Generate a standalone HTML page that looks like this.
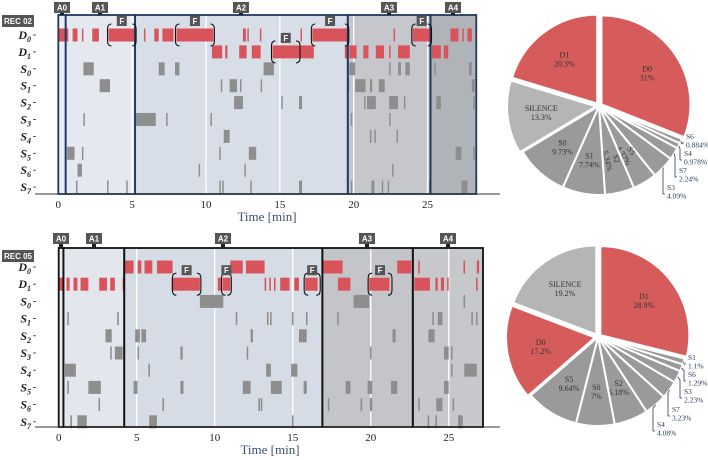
<!DOCTYPE html>
<html><head><meta charset="utf-8"><style>
body{margin:0;background:#fff}
svg{display:block;font-family:"Liberation Serif",serif}
.tag{font-family:"Liberation Sans",sans-serif;font-weight:bold;fill:#fff;font-size:8px}
</style></head><body>
<svg id="fig" width="708" height="460" viewBox="0 0 708 460"></svg>
<script>
const rowNames=["D0","D1","S0","S1","S2","S3","S4","S5","S6","S7"];
const xTicks=[0,5,10,15,20,25];
// REC 02
const rec02Phases=[0,0.5,5.2,19.6,25.2,28.3];
const rec02D0=[[0,0.68],[0.97,1.3],[1.6,1.7],[2.3,2.75],[3.4,5.2],[5.8,5.9],[6.5,6.8],[7.05,7.8],[8.0,10.5],[12.5,12.7],[12.8,12.9],[13.65,13.75],[16.4,16.5],[17.2,19.65],[22.7,22.8],[24.0,25.25],[26.55,27.1],[27.35,27.45],[27.7,28.0]];
const rec02D1=[[10.4,11.1],[11.3,11.45],[12.25,12.75],[13.1,13.7],[14.5,17.3],[19.4,19.6],[19.7,20.2],[20.65,21.0],[21.5,22.05],[22.4,22.5],[23.0,23.8],[25.3,25.9],[26.1,26.4]];
const rec02S0=[[1.7,2.4],[6.8,7.2],[7.9,8.2],[13.9,14.6],[19.7,20.1],[22.4,22.5],[23.0,23.2],[23.5,23.8],[25.45,25.55],[27.8,28.0]];
const rec02S1=[[2.8,3.5],[11.0,11.1],[11.6,12.1],[12.3,12.4],[13.7,13.8],[19.6,19.7],[20.1,20.8],[21.1,21.25],[21.7,22.1],[28.0,28.2]];
const rec02S2=[[11.9,12.5],[15.1,15.2],[16.3,16.5],[20.7,20.8],[20.9,21.5],[22.4,23.0],[23.4,23.5],[25.6,25.9],[28.1,28.2]];
const rec02S3=[[1.7,1.8],[5.2,6.6],[7.3,7.4],[10.3,10.4],[19.8,19.9],[22.4,22.5]];
const rec02S4=[[11.2,11.6],[21.1,21.2],[21.4,21.5],[22.9,23.0]];
const rec02S5=[[0.6,1.1],[1.6,1.7],[10.9,11.0],[12.9,13.4],[26.9,27.3],[28.1,28.2]];
const rec02S6=[[1.3,1.6],[9.5,9.6],[12.6,12.7],[22.6,22.7]];
const rec02S7=[[1.2,1.3],[3.3,3.4],[4.6,4.7],[10.9,11.0],[11.1,11.2],[13.0,13.1],[16.3,16.5],[19.8,19.9],[21.2,21.4],[21.9,22.0],[22.3,22.4],[25.1,25.2],[27.3,27.7]];
const rec02Focus=[[0,3.4,5.2],[0,8.0,10.5],[0,17.2,19.6],[0,24.0,25.2],[1,14.5,16.3]];
// REC 05
const rec05Phases=[0,0.3,4.2,16.9,22.7,27.2];
const rec05D0=[[4.25,4.8],[5.06,5.3],[5.5,6.0],[6.3,7.3],[11.0,11.8],[12.0,13.2],[16.95,18.2],[21.7,22.6],[23.05,23.15],[25.95,26.05],[26.8,26.95]];
const rec05D1=[[0,0.3],[0.5,0.7],[0.95,1.2],[1.4,1.9],[2.6,3.1],[3.3,3.6],[4.1,4.2],[7.25,9.05],[10.2,10.4],[10.5,11.0],[13.2,13.3],[13.5,13.6],[13.8,13.9],[14.2,14.8],[15.1,15.4],[15.8,16.6],[17.9,18.7],[19.9,21.2],[22.8,23.8],[24.15,24.3],[24.5,24.7],[24.9,25.0],[26.75,26.85]];
const rec05S0=[[9.05,10.55],[18.9,19.9],[25.95,26.05]];
const rec05S1=[[0.55,0.65],[3.75,3.85],[11.35,11.45],[13.35,13.45],[13.55,13.65],[14.95,15.05],[15.85,15.95],[17.85,17.95],[23.95,24.05],[24.3,24.6],[26.45,26.55],[26.75,26.85]];
const rec05S2=[[3.0,3.4],[4.9,5.2],[5.3,5.6],[12.3,12.45],[15.4,15.9],[21.4,21.6],[23.7,24.1]];
const rec05S3=[[3.3,3.4],[3.6,4.1],[5.05,5.15],[7.8,7.95],[12.05,12.15],[19.95,20.05],[22.65,22.75],[24.7,25.0],[25.15,25.25]];
const rec05S4=[[0.4,1.1],[5.75,5.85],[13.3,13.6],[14.9,15.3],[25.15,25.25],[26.0,26.8]];
const rec05S5=[[0.55,0.65],[1.9,2.7],[4.8,5.05],[7.8,8.0],[11.8,12.3],[13.6,14.3],[15.7,15.9],[18.4,18.7],[19.8,20.1],[21.3,21.7],[24.7,25.0]];
const rec05S6=[[2.55,2.65],[6.65,6.75],[12.8,12.9],[12.95,13.05],[17.25,17.35],[19.35,19.45],[19.95,20.1],[23.05,23.15],[24.2,24.6],[25.25,25.35]];
const rec05S7=[[0.75,0.85],[1.2,1.8],[5.8,6.3],[14.95,15.05],[23.65,23.75],[24.15,24.25],[25.6,25.9]];
const rec05Focus=[[1,7.35,9.05],[1,10.5,11.0],[1,15.8,16.7],[1,19.9,21.3]];
// Pies (clockwise from top)
const pie1Labels=["D0","S6","S4","S7","S3","S5","S2","S1","S0","SILENCE","D1"];
const pie1Values=[31,0.884,0.978,2.24,4.09,4.37,5.34,7.74,9.73,13.3,20.3];
const pie2Labels=["D1","S1","S6","S3","S7","S4","S2","S0","S5","D0","SILENCE"];
const pie2Values=[28.9,1.1,1.29,2.23,3.23,4.08,6.18,7,9.64,17.2,19.2];

const NS="http://www.w3.org/2000/svg";
const svg=document.getElementById('fig');
function el(tag,attrs,parent,txt){const e=document.createElementNS(NS,tag);for(const k in attrs)e.setAttribute(k,attrs[k]);if(txt!==undefined)e.textContent=txt;(parent||svg).appendChild(e);return e;}

function timeline(c){
  const g=el('g',{});
  
  
  const X=m=>c.x0+m*c.ppm;
  const Y=i=>c.rowY0+i*c.rowGap;
  const top=c.top,bot=c.bot;
  for(let i=0;i<c.phases.length-1;i++){
    const r=el('rect',{x:X(c.phases[i]),y:top,width:X(c.phases[i+1])-X(c.phases[i]),height:bot-top,fill:c.fills[i]},g);
    
    
  }
  xTicks.forEach(t=>{if(t>0&&X(t)<X(c.phases[c.phases.length-1]))el('line',{x1:X(t),x2:X(t),y1:top,y2:bot,stroke:'#fff','stroke-width':1.3},g);});
  c.rows.forEach((segs,i)=>{
    const col=i<2?'#d9545a':'#8e8e8e';
    segs.forEach(s=>{
      const b=el('rect',{x:X(s[0]),y:Y(i)-6.5,width:Math.max(1.2,X(s[1])-X(s[0])),height:13,fill:col},g);
      
      
    });
  });
  for(let i=0;i<c.phases.length-1;i++){
    el('rect',{x:X(c.phases[i]),y:top,width:X(c.phases[i+1])-X(c.phases[i]),height:bot-top,fill:'none',stroke:c.border,'stroke-width':1.8},g);
  }
  c.focus.forEach(f=>{
    const y=Y(f[0]),xa=X(f[1]),xb=X(f[2]);
    el('path',{d:`M${xa+3},${y-11} Q${xa-1},${y-11} ${xa-1},${y-6} L${xa-1},${y+6} Q${xa-1},${y+11} ${xa+3},${y+11}`,fill:'none',stroke:'#111','stroke-width':1.1},g);
    el('path',{d:`M${xb-3},${y-11} Q${xb+1},${y-11} ${xb+1},${y-6} L${xb+1},${y+6} Q${xb+1},${y+11} ${xb-3},${y+11}`,fill:'none',stroke:'#111','stroke-width':1.1},g);
    const fx=(xa+xb)/2;
    const fb=el('rect',{x:fx-5,y:y-19,width:10,height:10,fill:'#555'},g);
    
    
    el('text',{x:fx,y:y-11,'text-anchor':'middle',class:'tag'},g,'F');
  });
  for(let i=0;i<c.phases.length-1;i++){
    const cx=c.tagX[i];
    const t=el('rect',{x:cx-8,y:c.tagY,width:16,height:11,fill:'#555'},g);
    
    
    el('rect',{x:cx-2,y:c.tagY+11,width:4,height:top-c.tagY-11,fill:'#222'},g);
    el('text',{x:cx,y:c.tagY+8.5,'text-anchor':'middle',class:'tag'},g,'A'+i);
  }
  const rb=el('rect',{x:2,y:c.recY,width:32,height:12,fill:'#555'},g);
  
  
  el('text',{x:18,y:c.recY+9,'text-anchor':'middle',class:'tag'},g,c.rec);
  rowNames.forEach((n,i)=>{
    const t=el('text',{x:31,y:Y(i)+4,'text-anchor':'end','font-style':'italic','font-weight':'bold','font-size':12,fill:'#222'},g);
    
    
    t.appendChild(document.createTextNode(n[0]));
    el('tspan',{'font-size':8,dy:3},t,n[1]);
    el('line',{x1:33,x2:36,y1:Y(i),y2:Y(i),stroke:'#333','stroke-width':0.8},g);
  });
  const ax=el('line',{x1:35,x2:500,y1:bot,y2:bot,stroke:'#333','stroke-width':1},g);
  
  
  xTicks.forEach(t=>{
    const tl=el('text',{x:X(t),y:bot+14,'text-anchor':'middle','font-size':11,fill:'#222'},g,String(t));
    
    
  });
  const xt=el('text',{x:c.titleX,y:bot+27,'text-anchor':'middle','font-size':13,fill:'#3b5170'},g,'Time [min]');
  
  
}

timeline({name:'timeline-rec02',rec:'REC 02',x0:58.3,ppm:14.77,top:15,bot:194,rowY0:35,rowGap:16.9,tagY:2,recY:15,
  phases:rec02Phases,fills:['#eceef5','#e4e8ef','#d8dee7','#c5c7cc','#b0b3b8'],border:'#1f3864',
  rows:[rec02D0,rec02D1,rec02S0,rec02S1,rec02S2,rec02S3,rec02S4,rec02S5,rec02S6,rec02S7],focus:rec02Focus,
  tagX:[62,100,241,389,453],titleX:267});
timeline({name:'timeline-rec05',rec:'REC 05',x0:58.7,ppm:15.6,top:248,bot:427,rowY0:267,rowGap:17.2,tagY:233,recY:250,
  phases:rec05Phases,fills:['#e9ebf1','#e3e6ed','#d6dce5','#c3c5c9','#c6c8cc'],border:'#111',
  rows:[rec05D0,rec05D1,rec05S0,rec05S1,rec05S2,rec05S3,rec05S4,rec05S5,rec05S6,rec05S7],focus:rec05Focus,
  tagX:[61,94,223,367,448],titleX:270});

function pie(c){
  const g=el('g',{});
  
  
  const tot=c.values.reduce((a,b)=>a+b,0);
  let a=0;let small=0;
  c.values.forEach((v,i)=>{
    const lab=c.labels[i];
    const a0=a/tot*2*Math.PI,a1=(a+v)/tot*2*Math.PI;a+=v;
    const mid=(a0+a1)/2;
    const ex=(lab[0]==='D'||lab==='SILENCE')?3:0;
    const cx=c.cx+ex*Math.sin(mid),cy=c.cy-ex*Math.cos(mid);
    const P=(ang,r)=>[cx+r*Math.sin(ang),cy-r*Math.cos(ang)];
    const p0=P(a0,c.r),p1=P(a1,c.r);
    const col=lab[0]==='D'?'#d65c5c':(lab==='SILENCE'?'#b5b5b5':'#9a9a9a');
    const s=el('path',{d:`M${cx},${cy} L${p0[0]},${p0[1]} A${c.r},${c.r} 0 ${a1-a0>Math.PI?1:0} 1 ${p1[0]},${p1[1]} Z`,fill:col,stroke:'#fff','stroke-width':2},g);
    
    
    const pct=(+v.toPrecision(3))+'%';
    if(!c.outside.includes(lab)){
      const lp=P(mid,c.r*0.62);
      const narrow=v<6;
      const rot=narrow?(mid*180/Math.PI-90+(mid>Math.PI?180:0)):0;
      const t=el('text',{x:lp[0],y:lp[1]-2,'text-anchor':'middle','font-size':8,fill:'#333',transform:narrow?`rotate(${rot} ${lp[0]} ${lp[1]})`:''},g);
      
      
      el('tspan',{x:lp[0],dy:0},t,lab);
      el('tspan',{x:lp[0],dy:9},t,pct);
    } else {
      const e=P(mid,c.r);
      const lx=c.outX[small],ly=c.outY[small];small++;
      el('polyline',{points:`${e[0]},${e[1]} ${lx-4},${e[1]+3} ${lx-4},${ly+4} ${lx-2},${ly+4}`,fill:'none',stroke:'#2b3d5c','stroke-width':0.8},g);
      const t=el('text',{x:lx,y:ly,'font-size':7.5,fill:'#2b3d5c'},g);
      
      
      el('tspan',{x:lx,dy:0},t,lab);
      el('tspan',{x:lx,dy:8.5},t,pct);
    }
  });
}
pie({name:'pie-rec02',cx:599,cy:106,r:89,labels:pie1Labels,values:pie1Values,outside:['S6','S4','S7','S3'],
  outX:[686,684,679,667],outY:[139,156,173,190]});
pie({name:'pie-rec05',cx:598,cy:337,r:89,labels:pie2Labels,values:pie2Values,outside:['S1','S6','S3','S7','S4'],
  outX:[688,688,684,672,657],outY:[360,377,394,412,427]});
</script>
</body></html>
